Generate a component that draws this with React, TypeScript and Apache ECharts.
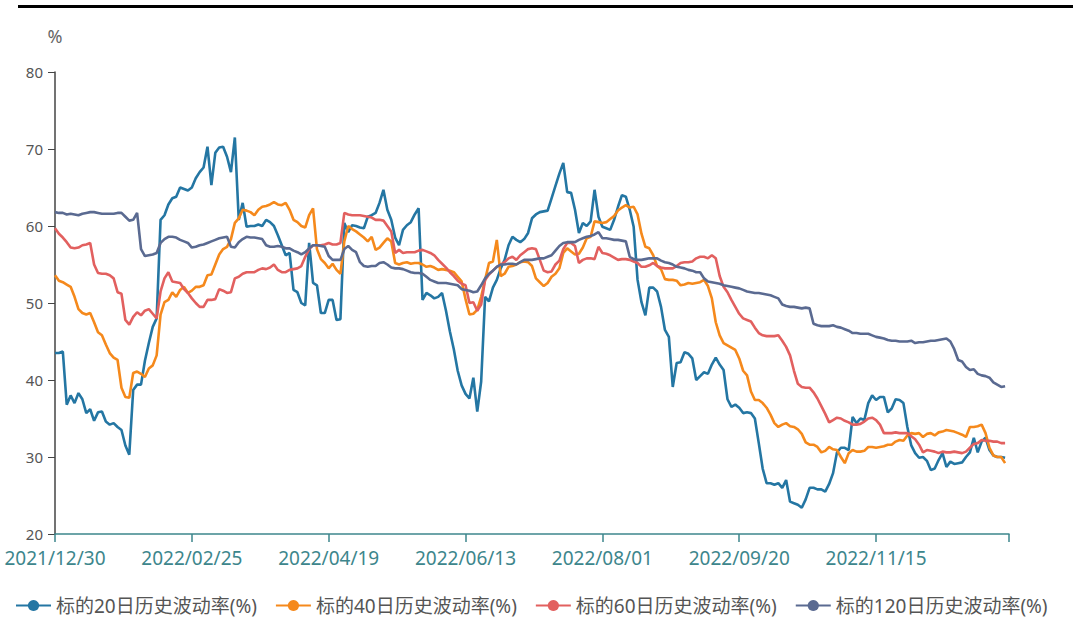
import React, { useEffect, useRef } from "react";
import * as echarts from "echarts";

// Chinese market closures used to build the trading-day category list
const holidays = [
  "2022-01-03", "2022-01-31", "2022-02-01", "2022-02-02", "2022-02-03", "2022-02-04",
  "2022-04-04", "2022-04-05", "2022-05-02", "2022-05-03", "2022-05-04", "2022-06-03",
  "2022-09-12", "2022-10-03", "2022-10-04", "2022-10-05", "2022-10-06", "2022-10-07",
  "2023-01-02",
];
const firstDay = "2021-12-30";
const lastDay = "2023-01-03";

function buildTradingDays(): string[] {
  const out: string[] = [];
  const d = new Date(firstDay + "T00:00:00Z");
  const end = new Date(lastDay + "T00:00:00Z");
  const hol = new Set(holidays);
  while (d.getTime() <= end.getTime()) {
    const wd = d.getUTCDay();
    const y = d.getUTCFullYear();
    const m = String(d.getUTCMonth() + 1).padStart(2, "0");
    const dd = String(d.getUTCDate()).padStart(2, "0");
    const iso = `${y}-${m}-${dd}`;
    if (wd !== 0 && wd !== 6 && !hol.has(iso)) out.push(`${y}/${m}/${dd}`);
    d.setUTCDate(d.getUTCDate() + 1);
  }
  return out;
}
const categories = buildTradingDays();

const seriesNames = [
  "标的20日历史波动率(%)",
  "标的40日历史波动率(%)",
  "标的60日历史波动率(%)",
  "标的120日历史波动率(%)",
];

const vol20 = [
  43.5, 43.5, 43.7, 36.8, 38, 37, 38.3, 37.5, 35.7, 36.2,
  34.7, 35.8, 35.9, 34.6, 34.2, 34.4, 33.9, 33.5, 31.5, 30.3,
  38.7, 39.4, 39.4, 42.5, 44.8, 46.9, 48, 60.8, 61.4, 62.8,
  63.6, 63.8, 65, 64.8, 64.6, 65, 66.2, 67, 67.6, 70.3,
  65.3, 69.5, 70.2, 70.3, 69, 67, 71.5, 60.8, 63, 59.9,
  60, 60, 60.2, 60, 60.8, 60.5, 60, 58.8, 57.5, 56.2,
  56.5, 51.7, 51.4, 50, 49.7, 57.8, 52.6, 52.3, 48.7, 48.7,
  50.4, 50.4, 47.8, 47.9, 60.4, 59.2, 60.1, 60, 59.8, 59.7,
  61.2, 61.4, 61.7, 63, 64.7, 62.1, 60.8, 58.5, 57.5, 59.5,
  60.1, 60.5, 61.5, 62.3, 50.4, 51.3, 51, 50.6, 50.8, 51.3,
  49, 46.3, 44, 41.2, 39.3, 38.2, 37.6, 40.3, 35.9, 39.8,
  50.8, 50.2, 52, 53, 54.5, 55.6, 57.5, 58.6, 58.2, 57.9,
  58.3, 59.1, 61, 61.5, 61.8, 61.9, 62, 63.6, 65.2, 66.8,
  68.2, 64.4, 64.3, 62.1, 59.1, 60.4, 60, 60.6, 64.7, 61.2,
  59.9, 59.7, 59.5, 60.8, 62.5, 64, 63.8, 62.1, 59.9, 53,
  50.1, 48.4, 52, 52, 51.5, 49.5, 46.5, 45.6, 39.1, 42.2,
  42.3, 43.6, 43.4, 42.8, 40, 40.5, 41, 40.8, 42, 42.9,
  42, 41.3, 37.5, 36.5, 36.8, 36.4, 35.7, 35.8, 35.7, 35,
  31.8, 28.5, 26.6, 26.6, 26.4, 26.6, 26, 27, 24.2, 24,
  23.8, 23.4, 24.5, 26, 26, 25.8, 25.8, 25.5, 26.5, 27.9,
  30.6, 31.2, 31.2, 30.9, 35.2, 34.4, 35, 34.8, 37, 38,
  37.4, 37.8, 37.8, 35.8, 36.3, 37.5, 37.4, 37, 33.9, 31.5,
  30.5, 29.9, 30, 29.5, 28.3, 28.5, 29.6, 30.5, 28.7, 29.4,
  29.1, 29.2, 29.3, 30, 30.6, 32.5, 30.6, 32, 32.5, 30.9,
  30.2, 30, 30, 29.9,
];

const vol40 = [
  53.6, 52.9, 52.7, 52.4, 52.1, 50.8, 49.2, 48.7, 48.5, 48.7,
  47.5, 46.2, 45.8, 44.6, 43.5, 42.9, 42.6, 39, 37.8, 37.7,
  40.9, 41.1, 40.8, 40.4, 41.5, 41.9, 43.2, 48.5, 50.1, 50.4,
  51.4, 50.8, 51.7, 52.1, 51.3, 51.6, 52.1, 52.1, 52.3, 53.6,
  53.7, 55, 56.3, 57, 57.3, 58.3, 60.4, 61, 62.1, 62,
  61.8, 61.4, 62.1, 62.5, 62.6, 62.8, 63.1, 62.8, 62.7, 63,
  62.1, 60.8, 60.5, 60, 59.8, 61.4, 62.3, 57, 55.7, 55.2,
  54.5, 55.1, 54.3, 53.8, 58, 60, 59.6, 59.3, 58.9, 58.5,
  58, 58.6, 56.9, 57.2, 57.8, 58.4, 58, 55.2, 55, 55.2,
  55.3, 55.1, 55.2, 55.2, 55, 54.7, 54.8, 54.6, 54.3, 54.4,
  54.3, 54.2, 54, 53.4, 52.8, 50.5, 48.5, 48.6, 49.1, 50.8,
  53, 55.2, 55.4, 58.2, 53.5, 53.8, 54.7, 54.8, 55, 55.3,
  55.4, 55.3, 54.8, 53.2, 52.7, 52.2, 52.6, 53.4, 53.8, 54.5,
  56.5, 57.1, 56.7, 56.3, 56.4, 57.2, 58.4, 58.6, 60.6, 60.5,
  60.4, 60.5, 60.9, 61.3, 62, 62.4, 62.7, 62.4, 62.5, 61.5,
  59, 57.3, 57.1, 56.2, 54.8, 54.4, 53.1, 53, 53, 52.9,
  52.3, 52.4, 52.6, 52.5, 52.6, 52.7, 53, 52.2, 50.6, 47.5,
  45.8, 44.8, 44.5, 44.2, 43.9, 42.8, 41.2, 40.6, 38.5, 37.4,
  37.4, 37, 36.4, 35.5, 34.4, 33.9, 34.2, 34.4, 34, 33.9,
  33.6, 33, 31.9, 31.6, 31.6, 31.3, 30.6, 30.8, 31.3, 31,
  30.9, 30, 29.2, 30.5, 30.9, 30.7, 30.7, 30.8, 31.3, 31.3,
  31.2, 31.3, 31.4, 31.6, 31.6, 32, 32.2, 32.1, 32.8, 33.1,
  33, 33.1, 32.6, 33, 33.1, 32.8, 33.2, 33.3, 33.5, 33.4,
  33.3, 33.1, 32.9, 32.6, 33.9, 33.9, 34, 34.2, 33.1, 31.2,
  30.2, 30, 30, 29.2,
];

const vol60 = [
  59.7, 59, 58.5, 57.9, 57.2, 57.1, 57.2, 57.5, 57.6, 57.8,
  55, 53.9, 53.8, 53.8, 53.6, 53.2, 51.4, 51.2, 47.8, 47.2,
  48.2, 48.8, 48.4, 49, 49.2, 48.6, 48, 51.5, 53.2, 54,
  52.8, 52.7, 52.6, 51.8, 51.3, 50.6, 50, 49.5, 49.5, 50.4,
  50.4, 50.5, 51.8, 51.6, 51.3, 51.4, 53.2, 53.4, 53.8, 54,
  54, 54, 54.3, 54.5, 54.4, 54.6, 55, 54.3, 54, 54,
  54.3, 54.4, 54.5, 54.8, 56, 57, 57.5, 57.5, 57.5, 57.6,
  57.8, 57.6, 57.6, 57.8, 61.7, 61.5, 61.4, 61.4, 61.4, 61.3,
  61.2, 61.1, 60.8, 60.8, 60.7, 60, 59.3, 56.5, 56.9, 56.5,
  56.6, 56.6, 56.6, 56.8, 56.9, 56.7, 56.5, 56.2, 55.6, 55.1,
  54.6, 54, 53.5, 52.9, 52.5, 52.3, 50, 50.1, 49, 49.8,
  53, 53.7, 54.2, 54.7, 55, 55.3, 55.8, 56, 55.6, 56.2,
  56.6, 57, 57.1, 57, 55.6, 54.2, 54, 54.1, 55, 55.5,
  57, 57.8, 57.8, 57.4, 55.2, 55.6, 55.8, 55.8, 55.7, 57.3,
  56.5, 56.4, 56.2, 55.9, 55.6, 55.7, 55.7, 55.6, 55.4, 55.2,
  54.7, 54.7, 54.9, 55.2, 54.8, 54.6, 54.5, 54.5, 54.5, 54.8,
  55.2, 55.3, 55.3, 55.4, 55.8, 56, 56, 55.8, 56.2, 55.8,
  53.5, 52.1, 51.4, 50.4, 49.5, 48.6, 48, 47.8, 47.6, 46.8,
  46.1, 45.8, 45.7, 45.7, 45.7, 45.8, 45.1, 44.3, 43.2, 41.2,
  39.5, 39.1, 39, 39, 38.4, 37.6, 36.6, 35.6, 34.5, 34.8,
  35.1, 35, 34.7, 34.5, 34.2, 34.2, 34.3, 34.6, 35, 35.1,
  34.8, 34.2, 33.1, 33.1, 33.1, 33.2, 33.1, 33.1, 33.1, 32.7,
  32.3, 31.6, 30.6, 30.9, 30.8, 30.7, 30.5, 30.7, 30.6, 30.6,
  30.7, 30.6, 30.5, 30.7, 31.2, 31.7, 31.8, 32.2, 32.1, 32.1,
  32, 32, 31.8, 31.8,
];

const vol120 = [
  61.8, 61.7, 61.7, 61.5, 61.6, 61.5, 61.4, 61.6, 61.7, 61.8,
  61.8, 61.7, 61.6, 61.6, 61.6, 61.6, 61.7, 61.7, 61.2, 60.7,
  60.8, 61.7, 57, 56.1, 56.2, 56.3, 56.5, 57.8, 58.3, 58.6,
  58.6, 58.5, 58.2, 58, 57.8, 57.2, 57.3, 57.5, 57.6, 57.8,
  58, 58.2, 58.4, 58.5, 58.6, 57.3, 57.2, 57.9, 58.3, 58.6,
  58.5, 58.5, 58.4, 58.3, 57.5, 57.3, 57.3, 57.4, 57.3, 57.1,
  57.1, 56.8, 56.6, 56.3, 56.6, 57.1, 57.5, 57.5, 57.4, 57.3,
  56.1, 55.6, 55.6, 55.6, 57, 57.4, 56.9, 56.6, 55.3, 54.8,
  54.7, 54.8, 54.8, 55.2, 55.3, 55, 54.6, 54.5, 54.5, 54.4,
  54.2, 54, 53.9, 53.9, 53.8, 53.4, 53, 52.8, 52.6, 52.6,
  52.6, 52.5, 52.4, 52.3, 51.8, 51.7, 51.6, 51.4, 51.5, 52.3,
  53.2, 53.8, 54.2, 54.7, 55, 55, 55.1, 55.1, 55, 55.3,
  55.6, 55.6, 55.6, 55.7, 55.8, 55.8, 56, 56.2, 56.8, 57.4,
  57.8, 57.9, 57.9, 57.9, 58.2, 58.4, 58.6, 58.7, 58.9, 59.2,
  58.4, 58.4, 58.3, 58.2, 58.2, 58.1, 58, 56, 55.7, 55.6,
  55.6, 55.7, 55.8, 55.8, 55.8, 55.5, 55.3, 55.2, 55, 54.7,
  54.6, 54.5, 54.3, 54.2, 54, 54, 53.2, 52.8, 52.7, 52.6,
  52.5, 52.3, 52.2, 52.1, 52, 51.9, 51.7, 51.5, 51.4, 51.3,
  51.3, 51.2, 51.1, 51, 50.8, 50.6, 49.8, 49.6, 49.5, 49.5,
  49.4, 49.3, 49.4, 49.3, 47.3, 47.1, 47, 47, 47, 47.1,
  46.9, 46.8, 46.6, 46.4, 46.1, 46.1, 46, 46, 46, 45.8,
  45.6, 45.5, 45.4, 45.2, 45.1, 45.1, 45, 45, 45, 45.1,
  44.8, 44.9, 44.9, 45, 45.1, 45.1, 45.2, 45.3, 45.4, 45,
  44, 42.6, 42.4, 41.7, 41.3, 41.4, 40.8, 40.6, 40.5, 40.3,
  39.7, 39.4, 39.1, 39.2,
];

const seriesData = [vol20, vol40, vol60, vol120];
const colors = ["#2476a3", "#f5891c", "#e2605f", "#5a6a91"];
const yTicks = { min: 20, max: 80, interval: 10 };

export default function App() {
  const ref = useRef<HTMLDivElement>(null);
  useEffect(() => {
    if (!ref.current) return;
    const chart = echarts.init(ref.current, undefined, { renderer: "svg" });
    const last = categories.length - 1;
    chart.setOption({
      animation: false,
      backgroundColor: "#ffffff",
      color: colors,
      textStyle: { fontFamily: "'Noto Sans', 'Noto Sans CJK SC', sans-serif" },
      graphic: [
        { type: "rect", left: 18, top: 5, shape: { width: 1055, height: 3 }, style: { fill: "#000" } },
      ],
      grid: { left: 55, right: 64, top: 72, bottom: 103, containLabel: false },
      legend: {
        bottom: 17,
        left: 10,
        itemWidth: 35,
        itemHeight: 14,
        itemGap: 18,
        textStyle: { fontSize: 19, color: "#555" },
        data: seriesNames,
      },
      xAxis: {
        type: "category",
        data: categories,
        boundaryGap: false,
        axisLine: { lineStyle: { color: "#3d868c", width: 1.5 } },
        axisTick: {
          length: 8,
          interval: (i: number) => i % 35 === 0 || i === last,
          lineStyle: { color: "#3d868c", width: 1.5 },
        },
        axisLabel: { interval: 34, color: "#3d868c", fontSize: 19, lineHeight: 19, margin: 14 },
        splitLine: { show: false },
      },
      yAxis: {
        type: "value",
        min: yTicks.min,
        max: yTicks.max,
        interval: yTicks.interval,
        name: "%",
        nameGap: 27,
        nameTextStyle: { color: "#666", fontSize: 18, align: "center" },
        axisLine: { show: true, lineStyle: { color: "#444", width: 1.5 } },
        axisTick: { show: true, length: 7, lineStyle: { color: "#444" } },
        axisLabel: { color: "#555", fontSize: 15, lineHeight: 15, margin: 12 },
        splitLine: { show: false },
      },
      series: seriesNames.map((name, k) => ({
        name,
        type: "line",
        data: seriesData[k],
        symbol: "circle",
        symbolSize: 14,
        showSymbol: false,
        lineStyle: { width: 2.6, color: colors[k] },
        itemStyle: { color: colors[k] },
      })),
    });
    return () => chart.dispose();
  }, []);
  return (
    <div
      ref={ref}
      style={{ position: "absolute", left: 0, top: 0, width: 1073, height: 637 }}
    />
  );
}
